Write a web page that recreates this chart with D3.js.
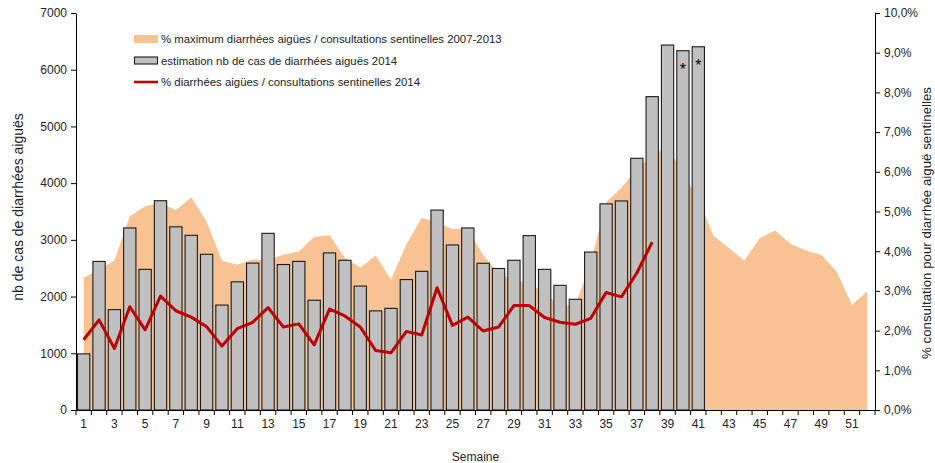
<!DOCTYPE html>
<html>
<head>
<meta charset="utf-8">
<script src="https://cdn.jsdelivr.net/npm/d3@7"></script>
<style>
  body { margin: 0; background: #fff; }
  svg text { font-family: "Liberation Sans", Arial, sans-serif; fill: #222; }
  .axis path, .axis line { stroke: #000; }
</style>
</head>
<body>
<div id="chart"></div>
<script>
// Weeks 1..52.
const weeks = d3.range(1, 53);

// Estimated number of acute diarrhoea cases 2014 (left axis), weeks 1..41.
const cases2014 = [990, 2620, 1770, 3210, 2480, 3690, 3230, 3080, 2745, 1850,
    2260, 2590, 3115, 2565, 2620, 1935, 2770, 2640, 2185, 1748,
    1792, 2300, 2445, 3525, 2910, 3210, 2587, 2495, 2640, 3075,
    2480, 2198, 1952, 2785, 3635, 3686, 4438, 5525, 6435, 6335,
    6405];

// % acute diarrhoea / sentinel consultations 2014 (right axis), weeks 1..38.
const pct2014 = [1.77, 2.27, 1.55, 2.60, 2.02, 2.87, 2.50, 2.34, 2.10, 1.61,
    2.05, 2.21, 2.58, 2.09, 2.17, 1.64, 2.54, 2.37, 2.09, 1.50,
    1.44, 1.98, 1.89, 3.08, 2.13, 2.34, 1.99, 2.09, 2.63, 2.63,
    2.33, 2.21, 2.16, 2.31, 2.96, 2.85, 3.45, 4.23];

// Maximum % 2007-2013 (right axis), weeks 1..52.
const pctMax = [3.33, 3.54, 3.76, 4.88, 5.13, 5.22, 5.03, 5.36, 4.75, 3.76,
    3.66, 3.79, 3.78, 3.91, 3.99, 4.36, 4.40, 3.83, 3.58, 3.89,
    3.28, 4.17, 4.84, 4.72, 4.56, 4.55, 3.90, 3.45, 3.28, 3.20,
    2.95, 2.61, 2.65, 3.70, 5.23, 5.60, 6.06, 6.40, 6.65, 5.95,
    5.30, 4.38, 4.08, 3.76, 4.33, 4.52, 4.19, 4.02, 3.91, 3.49,
    2.65, 2.99];

// Weeks whose estimate is marked with a star.
const starredWeeks = [40, 41];

const leftTicks = d3.range(0, 7001, 1000);
const rightTicks = d3.range(0, 11, 1);

const legendLabels = [
    '% maximum diarrhées aigües / consultations sentinelles 2007-2013',
    'estimation nb de cas de diarrhées aiguës 2014',
    '% diarrhées aigües / consultations sentinelles 2014'
];

const width = 935, height = 463;
const margin = {top: 13, right: 60, bottom: 53, left: 76};
const areaColor = '#f9c292', barColor = '#c0c0c0', lineColor = '#c00000';

const svg = d3.select('#chart').append('svg')
    .attr('width', width)
    .attr('height', height);

// Scales.
const x = d3.scaleBand()
    .domain(weeks)
    .range([margin.left, width - margin.right])
    .paddingInner(0.2)
    .paddingOuter(0.1);
const step = x.step();
const cx = w => x(w) + x.bandwidth() / 2;
const yLeft = d3.scaleLinear()
    .domain([0, 7000])
    .range([height - margin.bottom, margin.top]);
const yRight = d3.scaleLinear()
    .domain([0, 10])
    .range([height - margin.bottom, margin.top]);

// Orange area: max 2007-2013.
const area = d3.area()
    .x((d, i) => cx(weeks[i]))
    .y0(yRight(0))
    .y1(d => yRight(d));
svg.append('path')
    .datum(pctMax)
    .attr('fill', areaColor)
    .attr('d', area);

// Bars: estimated cases 2014.
svg.append('g').selectAll('rect')
    .data(cases2014)
    .enter()
    .append('rect')
    .attr('x', (d, i) => x(weeks[i]))
    .attr('y', d => yLeft(d))
    .attr('width', x.bandwidth())
    .attr('height', d => yLeft(0) - yLeft(d))
    .attr('fill', barColor)
    .attr('stroke', '#1a1a1a')
    .attr('stroke-width', 1.1);

// Stars on the provisional weeks.
svg.append('g').selectAll('text')
    .data(starredWeeks)
    .enter()
    .append('text')
    .attr('x', d => cx(d))
    .attr('y', d => yLeft(cases2014[d - 1]) + 24)
    .attr('text-anchor', 'middle')
    .style('font-size', '16px')
    .style('fill', '#000')
    .text('*');

// Red line: % 2014.
const line = d3.line()
    .x((d, i) => cx(weeks[i]))
    .y(d => yRight(d));
svg.append('path')
    .datum(pct2014)
    .attr('fill', 'none')
    .attr('stroke', lineColor)
    .attr('stroke-width', 3)
    .attr('stroke-linejoin', 'round')
    .attr('d', line);

// Left axis.
const leftAxis = svg.append('g')
    .attr('class', 'axis')
    .attr('transform', 'translate(' + margin.left + ',0)')
    .call(d3.axisLeft(yLeft).tickValues(leftTicks).tickSize(5).tickSizeOuter(0)
        .tickFormat(d3.format('d')));
leftAxis.selectAll('text').style('font-size', '12px').attr('x', -9);

// Right axis.
const rightAxis = svg.append('g')
    .attr('class', 'axis')
    .attr('transform', 'translate(' + (width - margin.right) + ',0)')
    .call(d3.axisRight(yRight).tickValues(rightTicks).tickSize(5).tickSizeOuter(0)
        .tickFormat(d => d.toFixed(1).replace('.', ',') + '%'));
rightAxis.selectAll('text').style('font-size', '12px').attr('x', 9);

// Bottom axis: labels on odd weeks, ticks at week boundaries.
const bottomY = height - margin.bottom;
const bottomAxis = svg.append('g')
    .attr('class', 'axis')
    .attr('transform', 'translate(0,' + bottomY + ')')
    .call(d3.axisBottom(x).tickValues(weeks.filter(w => w % 2 === 1))
        .tickSize(0).tickSizeOuter(0));
bottomAxis.selectAll('text').style('font-size', '12px').attr('y', 9);
bottomAxis.selectAll('.tick line').remove();
bottomAxis.selectAll('.bound')
    .data(weeks.concat([53]))
    .enter()
    .append('line')
    .attr('class', 'bound')
    .attr('x1', w => w === 53 ? x(52) + step * 0.9 : x(w) - step * 0.1)
    .attr('x2', w => w === 53 ? x(52) + step * 0.9 : x(w) - step * 0.1)
    .attr('y1', 0)
    .attr('y2', 5)
    .attr('stroke', '#000');

// Axis titles.
svg.append('text')
    .attr('transform', 'translate(23,207)rotate(-90)')
    .attr('text-anchor', 'middle')
    .style('font-size', '14px')
    .text('nb de cas de diarrhées aiguës');
svg.append('text')
    .attr('transform', 'translate(931,223)rotate(-90)')
    .attr('text-anchor', 'middle')
    .style('font-size', '13.3px')
    .text('% consultation pour diarrhée aiguë sentinelles');
svg.append('text')
    .attr('x', (margin.left + width - margin.right) / 2)
    .attr('y', 461)
    .attr('text-anchor', 'middle')
    .style('font-size', '12px')
    .text('Semaine');

// Legend.
const legend = svg.append('g').attr('transform', 'translate(134,39)');
const rowH = 21.5;
legend.append('rect')
    .attr('x', 0).attr('y', -4).attr('width', 24).attr('height', 8)
    .attr('fill', areaColor);
legend.append('rect')
    .attr('x', 0.5).attr('y', rowH - 3.5).attr('width', 23).attr('height', 7)
    .attr('fill', barColor).attr('stroke', '#1a1a1a').attr('stroke-width', 1.1);
legend.append('line')
    .attr('x1', 0).attr('x2', 24).attr('y1', rowH * 2).attr('y2', rowH * 2)
    .attr('stroke', lineColor).attr('stroke-width', 2.6);
legend.selectAll('.lab')
    .data(legendLabels)
    .enter()
    .append('text')
    .attr('class', 'lab')
    .attr('x', 27)
    .attr('y', (d, i) => i * rowH + 4)
    .style('font-size', '11.4px')
    .text(d => d);
</script>
</body>
</html>
